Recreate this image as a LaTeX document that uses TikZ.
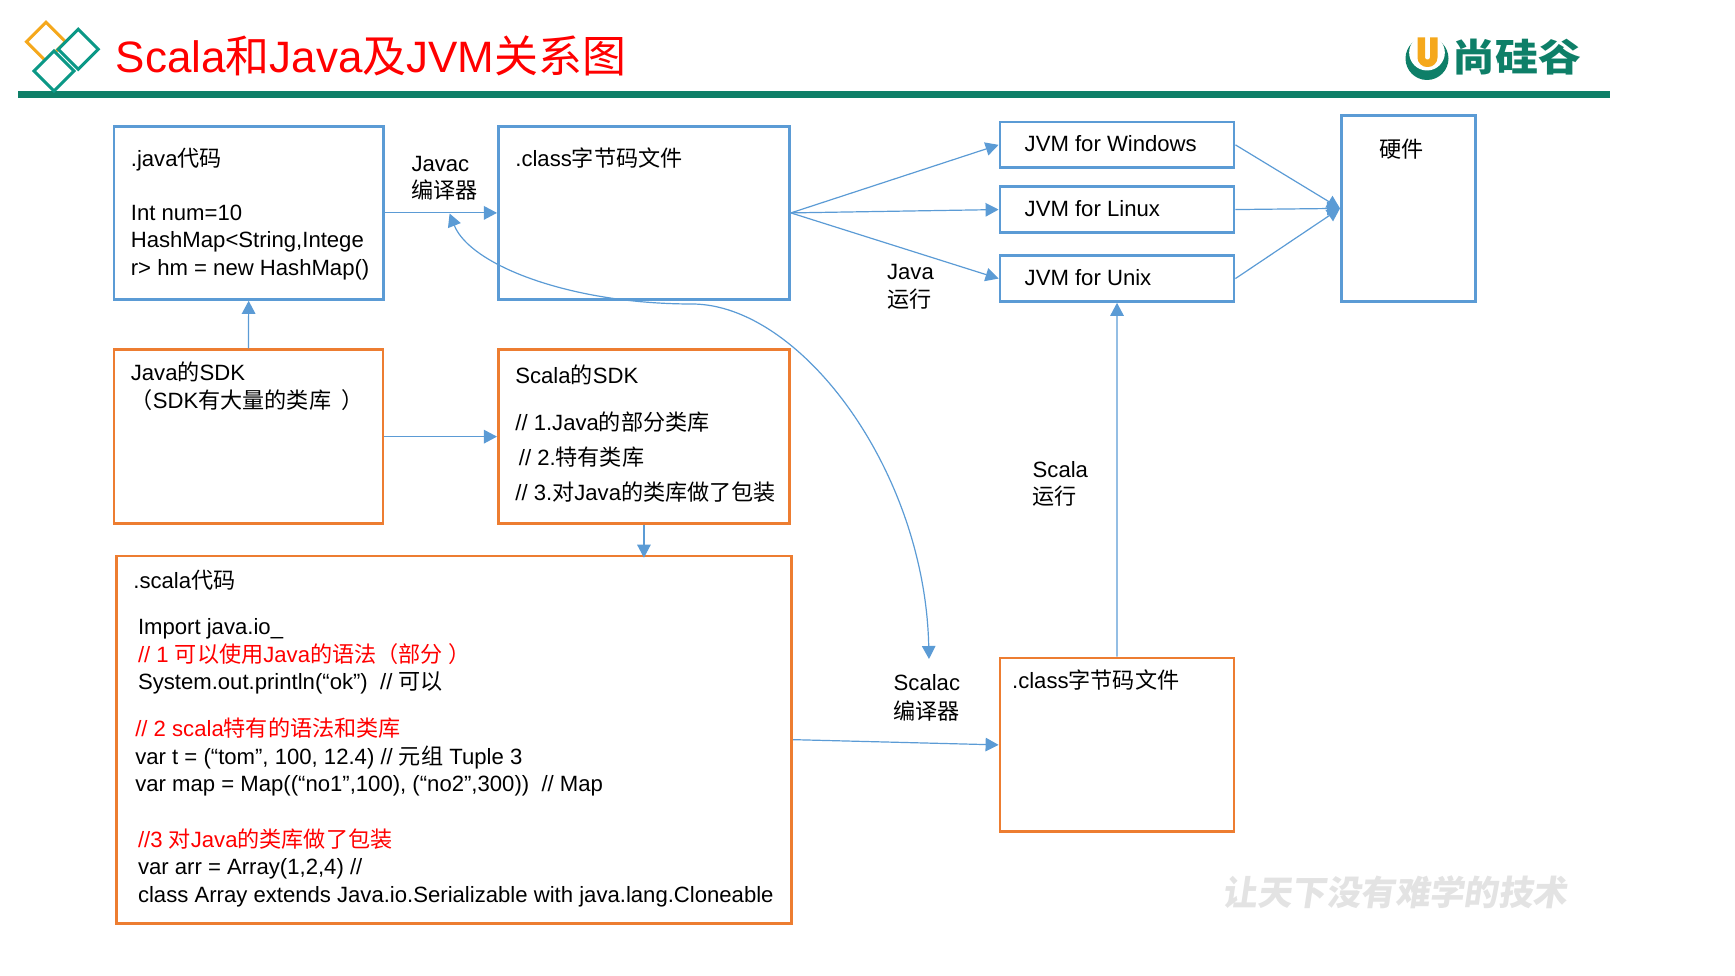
\documentclass[tikz,border=0pt]{standalone}
\usepackage{fontspec}
\setmainfont{Liberation Sans}
\newfontfamily\zhfont{Noto Sans CJK SC}
\newfontfamily\brandfont[FakeStretch=1.13]{Noto Sans CJK SC}
\newfontfamily\mottofont[FakeSlant=0.15]{Noto Sans CJK SC}
\newcommand{\zh}[1]{{\zhfont #1}}
\newcommand{\bodyfont}{\fontsize{6.29}{7.77}\selectfont}
\usetikzlibrary{arrows.meta}
\definecolor{boxblue}{HTML}{5B9BD5}
\definecolor{boxorange}{HTML}{ED7D31}
\definecolor{logogreen}{HTML}{0E7F68}
\definecolor{logoorange}{HTML}{F5A81C}
\tikzset{
  >={Triangle[length=0.13cm,width=0.135cm]},
  codebox/.style={draw,line width=0.027cm,anchor=north west,align=flush left,inner ysep=0pt,inner xsep=0.17cm,font=\bodyfont},
  bluebox/.style={codebox,draw=boxblue},
  orangebox/.style={codebox,draw=boxorange},
  jvmbox/.style={bluebox,inner xsep=0.2475cm,text width=1.845cm,text height=0.2965cm,text depth=0.1615cm},
  plainlabel/.style={anchor=base west,align=flush left,inner sep=0pt,font=\bodyfont},
  link/.style={->,draw=boxblue,line width=0.012cm},
}
\begin{document}
\begin{tikzpicture}[x=0.01cm,y=-0.01cm]
\useasboundingbox (0,0) rectangle (1735,976);
% header
\fill[logogreen] (18,91.3) rectangle (1610,98);
\draw[logoorange,line width=0.03cm] (26.5,41.7) -- (46,22.2) -- (65.5,41.7) -- (46,61.2) -- cycle;
\draw[logogreen!80!cyan,line width=0.03cm,fill=white] (58.3,49.3) -- (78.3,29.3) -- (98.3,49.3) -- (78.3,69.3) -- cycle;
\draw[logogreen!80!cyan,line width=0.03cm,fill=white] (34,71) -- (54,51) -- (74,71) -- (54,91) -- cycle;
\node[plainlabel,text=red,font=\fontsize{12.5}{15}\selectfont] (title) at (115,73) {Scala\zh{和}Java\zh{及}JVM\zh{关系图}};
\fill[logogreen] (1427,58.5) circle[radius=21.5];
\fill[white] (1427,52.66) circle[radius=17.84];
\draw[logoorange,line width=0.075cm,rounded corners=0.06cm] (1421.25,37.5) -- (1421.25,63.25) -- (1433.75,63.25) -- (1433.75,37.5);
\node[plainlabel,text=logogreen,font=\fontsize{10.8}{12}\selectfont] (brand) at (1452,72) {\brandfont\bfseries 尚硅谷};
\node[plainlabel,text=black!11,font=\fontsize{9.8}{12}\selectfont\bfseries] (motto) at (1222,906) {\mottofont 让天下没有难学的技术};
% boxes
\node[bluebox,text width=2.355cm,text height=0.3975cm,text depth=1.3325cm] (javacode) at (112.5,125) {.java\zh{代码}\\[0.27cm] Int num=10\\ HashMap<String,Intege\\ \mbox{r> hm = new HashMap()}};
\node[bluebox,text width=2.57cm,text height=0.3975cm,text depth=1.3325cm] (classfile) at (497,125) {.class\zh{字节码文件}};
\node[orangebox,text width=2.35cm,text height=0.3025cm,text depth=1.4325cm] (javasdk) at (112.5,348.5) {Java\zh{的}SDK\\[0.007cm] \zh{（}SDK\zh{有大量的类库}\hspace{0.1cm}\zh{）}};
\node[orangebox,text width=2.57cm,text height=0.3355cm,text depth=1.3995cm] (scalasdk) at (497,348.5) {Scala\zh{的}SDK\\[0.198cm] // 1.Java\zh{的部分类库}\\[0.077cm] \hspace*{0.035cm}// 2.\zh{特有类库}\\[0.077cm] \mbox{// 3.\zh{对}Java\zh{的类库做了包装}}};
\node[orangebox,text width=6.41cm,text height=0.3235cm,text depth=3.3465cm] (scalacode) at (115,554.7) {.scala\zh{代码}\\[0.19cm]
\hspace*{0.0465cm}Import java.io\_\\
\hspace*{0.0465cm}\textcolor{red}{// 1 \zh{可以使用}Java\zh{的语法（部分}\hspace{0.055cm}\zh{）}}\\
\hspace*{0.0465cm}System.out.println(“ok”)~ // \zh{可以}\\[0.2cm]
\hspace*{0.0195cm}\textcolor{red}{// 2 scala\zh{特有的语法和类库}}\\
\hspace*{0.0195cm}var t = (“tom”, 100, 12.4) // \zh{元组} Tuple 3\\
\hspace*{0.0195cm}var map = Map((“no1”,100), (“no2”,300))~ // Map\\[0.287cm]
\hspace*{0.0465cm}\textcolor{red}{//3 \zh{对}Java\zh{的类库做了包装}}\\
\hspace*{0.0465cm}var arr = Array(1,2,4) //\\
\hspace*{0.0465cm}\mbox{class Array extends Java.io.Serializable with java.lang.Cloneable}};
\node[jvmbox] (jvmwin) at (998.6,120.6) {JVM for Windows};
\node[jvmbox] (jvmlinux) at (998.6,185.3) {JVM for Linux};
\node[jvmbox] (jvmunix) at (998.6,254.3) {JVM for Unix};
\node[bluebox,inner xsep=0.3775cm,text width=0.585cm,text height=0.4195cm,text depth=1.4405cm] (hardware) at (1340,114) {\zh{硬件}};
\node[orangebox,inner xsep=0.1215cm,text width=2.095cm,text height=0.3cm,text depth=1.436cm] (classscala) at (998.6,656.7) {.class\zh{字节码文件}};
% labels
\node[plainlabel] (javaclabel) at (410.8,199) {Javac\\ \zh{编译器}};
\node[plainlabel] (javarun) at (886.4,307.5) {Java\\[0.007cm] \zh{运行}};
\node[plainlabel] (scalarun) at (1032,504.5) {Scala\\ \zh{运行}};
\node[plainlabel] (scalaclabel) at (893,719) {Scalac\\[0.007cm] \zh{编译器}};
% connectors
\coordinate (curvetop) at (449.6,213.5);
\coordinate (curvebend) at (692,304);
\coordinate (curvebottom) at (929,659);
\draw[link] (javacode.east) -- (classfile.west);
\draw[link] (javasdk.north) -- (javacode.south);
\draw[link] (javasdk.east) -- (scalasdk.west);
\draw[link,shorten >=-0.03cm] (scalasdk.south) -- (scalacode.north -| scalasdk.south);
\draw[link] (scalacode.east) -- (classscala.west);
\draw[link] (classscala.north) -- (jvmunix.south);
\draw[link] (classfile.east) -- (jvmwin.west);
\draw[link] (classfile.east) -- (jvmlinux.west);
\draw[link] (classfile.east) -- (jvmunix.west);
\draw[link] (jvmwin.east) -- (hardware.west);
\draw[link] (jvmlinux.east) -- (hardware.west);
\draw[link] (jvmunix.east) -- (hardware.west);
\draw[link,<->] (curvetop) .. controls (470,265) and (570,304) .. (curvebend) .. controls (800,304) and (925,470) .. (curvebottom);
\end{tikzpicture}
\end{document}
